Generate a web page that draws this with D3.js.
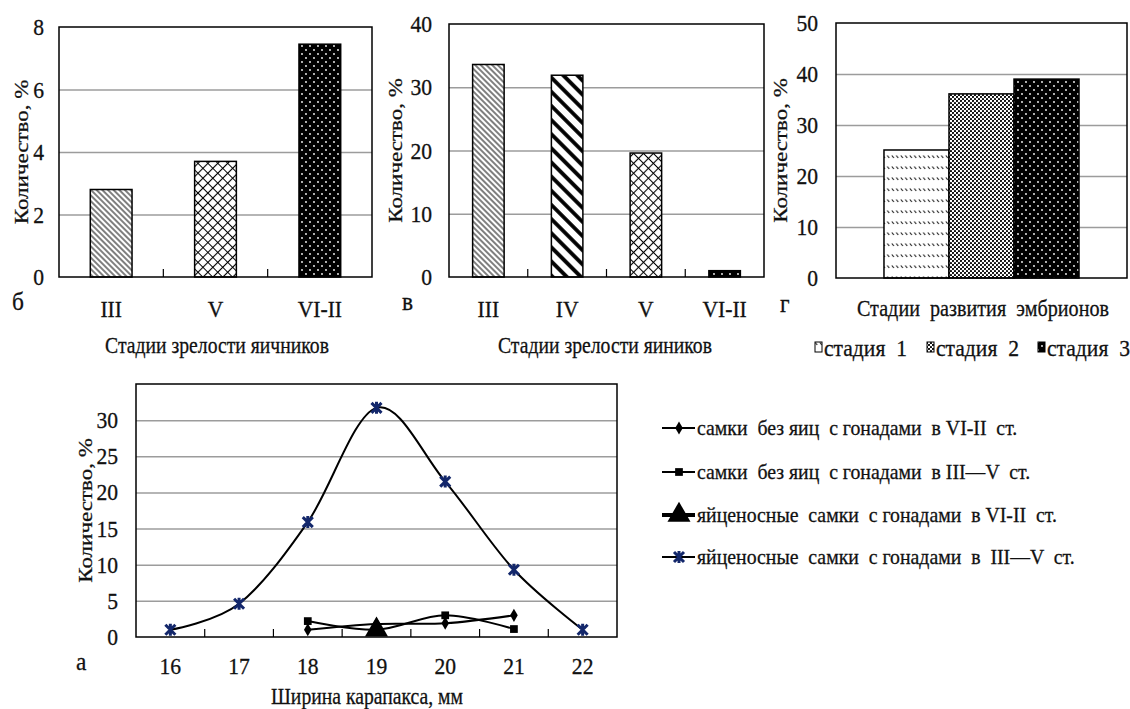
<!DOCTYPE html>
<html>
<head>
<meta charset="utf-8">
<script src="https://cdn.jsdelivr.net/npm/d3@7"></script>
<style>
  body { margin: 0; background: #fff; }
  svg text { font-family: "Liberation Serif", "Times New Roman", serif; fill: #111; stroke: #111; stroke-width: 0.3; white-space: pre; }
</style>
</head>
<body>
<svg id="chart" width="1130" height="709"></svg>
<script>
// ---- data ----
var ovaryStagesB = ["III", "V", "VI-II"];
var ovaryValuesB = [2.8, 3.7, 7.45];

var ovaryStagesV = ["III", "IV", "V", "VI-II"];
var ovaryValuesV = [33.6, 31.9, 19.6, 1.0];

var embryoStages = ["стадия  1", "стадия  2", "стадия  3"];
var embryoValues = [25.1, 36.1, 39.0];

var carapaceWidths = [16, 17, 18, 19, 20, 21, 22];
var noEggsVIII = [null, null, 1.0, 1.8, 1.9, 3.0, null];
var noEggsIIIV = [null, null, 2.2, 1.0, 3.0, 1.1, null];
var eggsVIII = [null, null, null, 1.0, null, null, null];
var eggsIIIV = [1.0, 4.6, 15.9, 31.7, 21.5, 9.3, 1.0];

var seriesNames = [
  "самки  без яиц  с гонадами  в VI-II  ст.",
  "самки  без яиц  с гонадами  в III—V  ст.",
  "яйценосные  самки  с гонадами  в VI-II  ст.",
  "яйценосные  самки  с гонадами  в  III—V  ст."
];

var yLabel = "Количество, %";
var SX = 0.82; // glyphs in the picture are squeezed sideways

var svg = d3.select("#chart");
var defs = svg.append("defs");

// ---- fill patterns ----
function pattern(id, w, h, rot, bg) {
  var p = defs.append("pattern").attr("id", id)
    .attr("patternUnits", "userSpaceOnUse")
    .attr("width", w).attr("height", h);
  if (rot) p.attr("patternTransform", "rotate(" + rot + ")");
  p.append("rect").attr("width", w).attr("height", h).attr("fill", bg);
  return p;
}
pattern("hatchThin", 4, 4, -45, "#fff")
  .append("line").attr("x1", 2).attr("x2", 2).attr("y1", 0).attr("y2", 4)
  .attr("stroke", "#000").attr("stroke-width", 1);
pattern("hatchThick", 10, 10, -45, "#fff")
  .append("line").attr("x1", 5).attr("x2", 5).attr("y1", 0).attr("y2", 10)
  .attr("stroke", "#000").attr("stroke-width", 3.8);
pattern("cross", 7, 7, 45, "#fff")
  .append("path").attr("d", "M3.5,0V7M0,3.5H7")
  .attr("stroke", "#000").attr("stroke-width", 1.1);
var pd = pattern("dots", 8, 8, 0, "#000");
pd.append("circle").attr("cx", 2).attr("cy", 2).attr("r", 0.9).attr("fill", "#fff");
pd.append("circle").attr("cx", 6).attr("cy", 6).attr("r", 0.9).attr("fill", "#fff");
pattern("dash", 4.5, 11, 0, "#fff")
  .append("line").attr("x1", 0.8).attr("y1", 1.5).attr("x2", 2.8).attr("y2", 4)
  .attr("stroke", "#000").attr("stroke-width", 1);
var pg = pattern("dense", 4, 4, 0, "#fff");
pg.append("circle").attr("cx", 1).attr("cy", 1).attr("r", 1.1).attr("fill", "#000");
pg.append("circle").attr("cx", 3).attr("cy", 3).attr("r", 1.1).attr("fill", "#000");

// ---- text helper ----
function txt(g, x, y, s, size, anchor, rotated, sx) {
  sx = sx || SX;
  return g.append("text")
    .attr("transform", "translate(" + x + "," + y + ")" +
      (rotated ? " rotate(-90) scale(1," + sx + ")" : " scale(" + sx + ",1)"))
    .attr("text-anchor", anchor || "start")
    .style("font-size", size + "px")
    .text(s);
}

// ---- shared frame: grid, tick labels, box ----
function frame(o) {
  var g = svg.append("g");
  var y = d3.scaleLinear().domain([0, o.max]).range([o.bottom, o.top]);
  g.append("g")
    .attr("transform", "translate(" + o.left + ",0)")
    .call(d3.axisLeft(y).tickValues(o.ticks.filter(function (t) { return t > 0 && t < o.max; }))
      .tickSize(-(o.right - o.left)).tickFormat(""))
    .call(function (s) { s.select(".domain").remove(); })
    .selectAll("line").attr("stroke", "#9c9c9c").attr("stroke-width", 1.5);
  o.ticks.forEach(function (t) {
    txt(g, o.labelX, y(t) + 8, String(t), 24, "end", false, 0.9);
  });
  txt(g, o.yTitleX, (o.top + o.bottom) / 2, yLabel, 23, "middle", true);
  return { g: g, y: y };
}

function box(g, o) {
  g.append("rect")
    .attr("x", o.left).attr("y", o.top)
    .attr("width", o.right - o.left).attr("height", o.bottom - o.top)
    .attr("fill", "none").attr("stroke", "#000").attr("stroke-width", 1.5);
}

function catTicks(g, x, o) {
  x.domain().slice(1).forEach(function (c) {
    var px = x(c) - x.step() * x.paddingInner() / 2;
    g.append("line").attr("x1", px).attr("x2", px)
      .attr("y1", o.bottom).attr("y2", o.bottom - 8)
      .attr("stroke", "#000").attr("stroke-width", 1.2);
  });
}

// ---- simple bar panels (б, в) ----
function barPanel(o) {
  var f = frame(o), g = f.g, y = f.y;
  var x = d3.scaleBand().domain(o.cats).range([o.left, o.right])
    .paddingInner(0.6).paddingOuter(0.3);
  g.selectAll(".bar").data(o.values).enter().append("rect")
    .attr("x", function (d, i) { return x(o.cats[i]); })
    .attr("y", function (d) { return y(d); })
    .attr("width", x.bandwidth())
    .attr("height", function (d) { return o.bottom - y(d); })
    .attr("fill", function (d, i) { return "url(#" + o.fills[i] + ")"; })
    .attr("stroke", "#000").attr("stroke-width", 1.5);
  catTicks(g, x, o);
  box(g, o);
  o.cats.forEach(function (c) {
    txt(g, x(c) + x.bandwidth() / 2, 317, c, 24, "middle", false, 0.9);
  });
  txt(g, o.titleX, 353, o.title, 24, "middle");
  txt(g, o.letterX, 310, o.letter, 26, "start", false, 0.9);
}

barPanel({
  left: 59, right: 372, top: 27, bottom: 277, max: 8, ticks: [0, 2, 4, 6, 8],
  labelX: 44, yTitleX: 28, cats: ovaryStagesB, values: ovaryValuesB,
  fills: ["hatchThin", "cross", "dots"],
  title: "Стадии зрелости яичников", titleX: 217, letter: "б", letterX: 12
});

barPanel({
  left: 449, right: 764, top: 24, bottom: 277, max: 40, ticks: [0, 10, 20, 30, 40],
  labelX: 432, yTitleX: 402, cats: ovaryStagesV, values: ovaryValuesV,
  fills: ["hatchThin", "hatchThick", "cross", "dots"],
  title: "Стадии зрелости яиников", titleX: 605, letter: "в", letterX: 402
});

// ---- grouped bar panel (г) ----
(function () {
  var o = { left: 836, right: 1127, top: 23, bottom: 278, max: 50,
    ticks: [0, 10, 20, 30, 40, 50], labelX: 818, yTitleX: 787 };
  var f = frame(o), g = f.g, y = f.y;
  var fills = ["dash", "dense", "dots"];
  var x0 = d3.scaleBand().domain(["all"]).range([o.left, o.right]).paddingOuter(0.246);
  var x1 = d3.scaleBand().domain(embryoStages).range([0, x0.bandwidth()]);
  g.selectAll(".bar").data(embryoValues).enter().append("rect")
    .attr("x", function (d, i) { return x0("all") + x1(embryoStages[i]); })
    .attr("y", function (d) { return y(d); })
    .attr("width", x1.bandwidth())
    .attr("height", function (d) { return o.bottom - y(d); })
    .attr("fill", function (d, i) { return "url(#" + fills[i] + ")"; })
    .attr("stroke", "#000").attr("stroke-width", 1.5);
  box(g, o);
  txt(g, 983, 316, "Стадии  развития  эмбрионов", 24, "middle", false, 0.84);
  txt(g, 780, 312, "г", 26, "start", false, 0.9);
  var legX = [815, 927, 1038];
  embryoStages.forEach(function (s, i) {
    g.append("rect").attr("x", legX[i]).attr("y", 342).attr("width", 7).attr("height", 10)
      .attr("fill", "url(#" + fills[i] + ")").attr("stroke", "#000").attr("stroke-width", 1);
    txt(g, legX[i] + 9, 356, s, 24, "start", false, 0.9);
  });
})();

// ---- line chart (а) ----
(function () {
  var o = { left: 136, right: 617, top: 384, bottom: 637, max: 35,
    ticks: [0, 5, 10, 15, 20, 25, 30], labelX: 118, yTitleX: 92 };
  var f = frame(o), g = f.g, y = f.y;
  var x = d3.scaleBand().domain(carapaceWidths).range([o.left, o.right]);
  var cx = function (w) { return x(w) + x.bandwidth() / 2; };

  var series = [
    { name: seriesNames[0], values: noEggsVIII, mark: "diamond", color: "#000", lw: 2 },
    { name: seriesNames[1], values: noEggsIIIV, mark: "square", color: "#000", lw: 2 },
    { name: seriesNames[2], values: eggsVIII, mark: "triangle", color: "#000", lw: 4 },
    { name: seriesNames[3], values: eggsIIIV, mark: "star", color: "#13276b", lw: 2 }
  ];

  var line = d3.line()
    .defined(function (d) { return d.v != null; })
    .curve(d3.curveCardinal.tension(0))
    .x(function (d) { return cx(d.w); })
    .y(function (d) { return y(d.v); });

  function drawMark(sel, s, px, py) {
    if (s.mark === "star") {
      sel.append("path")
        .attr("d", "M" + (px - 5) + "," + (py - 5) + "L" + (px + 5) + "," + (py + 5) +
          "M" + (px + 5) + "," + (py - 5) + "L" + (px - 5) + "," + (py + 5) +
          "M" + px + "," + (py - 6) + "V" + (py + 6))
        .attr("stroke", s.color).attr("stroke-width", 3).attr("fill", "none");
      return;
    }
    var sym = { diamond: [d3.symbolDiamond, 50], square: [d3.symbolSquare, 60],
      triangle: [d3.symbolTriangle, 230] }[s.mark];
    sel.append("path").attr("d", d3.symbol(sym[0], sym[1])())
      .attr("transform", "translate(" + px + "," + py + ")")
      .attr("fill", s.color);
  }

  series.forEach(function (s) {
    var pts = carapaceWidths.map(function (w, i) { return { w: w, v: s.values[i] }; });
    g.append("path").attr("d", line(pts))
      .attr("fill", "none").attr("stroke", "#000").attr("stroke-width", 2);
    pts.filter(function (p) { return p.v != null; }).forEach(function (p) {
      drawMark(g, s, cx(p.w), y(p.v));
    });
  });

  catTicks(g, x.copy().paddingInner(0), o);
  box(g, o);
  carapaceWidths.forEach(function (w) {
    txt(g, cx(w), 674, String(w), 24, "middle", false, 0.9);
  });
  txt(g, 367, 704, "Ширина карапакса, мм", 24, "middle");
  txt(g, 76, 670, "а", 26, "start", false, 0.9);

  // legend
  var rows = [428, 472, 515, 557];
  series.forEach(function (s, i) {
    var lg = svg.append("g");
    lg.append("line").attr("x1", 662).attr("x2", 695).attr("y1", rows[i]).attr("y2", rows[i])
      .attr("stroke", "#000").attr("stroke-width", s.lw);
    drawMark(lg, s, 679, rows[i]);
    txt(lg, 697, rows[i] + 7, s.name, 22, "start", false, 0.9);
  });
})();
</script>
</body>
</html>
